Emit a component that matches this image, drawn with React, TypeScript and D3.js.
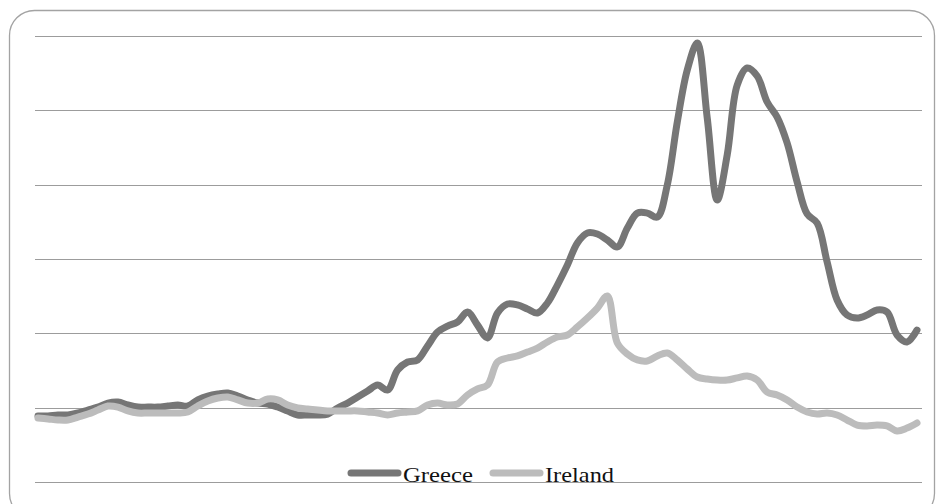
import React from "react";
import * as d3 from "d3";

// values, one per step along the x axis
const greece = [
  4.44, 4.44, 4.51, 4.51, 4.64, 4.84, 5.04, 5.31, 5.38, 5.18,
  5.04, 5.04, 5.04, 5.11, 5.18, 5.11, 5.52, 5.78, 5.92, 5.99,
  5.78, 5.52, 5.31, 5.25, 5.04, 4.77, 4.51, 4.51, 4.51, 4.57,
  4.98, 5.31, 5.72, 6.12, 6.52, 6.19, 7.53, 8.07, 8.21, 9.15,
  10.09, 10.49, 10.76, 11.43, 10.56, 9.69, 11.37, 11.97, 11.91, 11.64,
  11.37, 12.04, 13.25, 14.6, 16.08, 16.75, 16.68, 16.28, 15.81, 17.08,
  18.09, 18.09, 17.82, 19.98, 24.21, 27.71, 29.53, 24.48, 18.97, 22.0,
  26.7, 27.85, 27.31, 25.56, 24.55, 22.8, 20.18, 18.03, 17.42, 14.8,
  12.24, 11.23, 11.03, 11.23, 11.57, 11.43, 9.89, 9.42, 10.22,
];

const ireland = [
  4.3, 4.24, 4.17, 4.17, 4.37, 4.57, 4.84, 5.11, 5.04, 4.78,
  4.64, 4.64, 4.64, 4.64, 4.64, 4.71, 5.11, 5.45, 5.65, 5.72,
  5.52, 5.31, 5.31, 5.58, 5.52, 5.18, 4.98, 4.91, 4.84, 4.78,
  4.78, 4.78, 4.78, 4.71, 4.64, 4.51, 4.64, 4.71, 4.78, 5.18,
  5.31, 5.18, 5.25, 5.85, 6.26, 6.52, 8.07, 8.34, 8.48, 8.74,
  9.01, 9.42, 9.75, 9.89, 10.43, 11.03, 11.7, 12.51, 9.35, 8.61,
  8.21, 8.14, 8.48, 8.68, 8.21, 7.6, 7.06, 6.93, 6.86, 6.86,
  7.0, 7.13, 6.86, 6.05, 5.85, 5.52, 5.04, 4.71, 4.57, 4.64,
  4.51, 4.17, 3.83, 3.77, 3.83, 3.77, 3.43, 3.63, 3.97,
];

const yTicks = [0, 5, 10, 15, 20, 25, 30];

const series = [
  { name: "Greece", values: greece, color: "#767676" },
  { name: "Ireland", values: ireland, color: "#bcbcbc" },
];

const width = 937;
const height = 504;

export default function App() {
  const x = d3
    .scaleLinear()
    .domain([0, greece.length - 1])
    .range([38, 917]);
  const y = d3.scaleLinear().domain([0, 30]).range([482, 36]);

  const line = d3
    .line<number>()
    .x((d, i) => x(i))
    .y((d) => y(d))
    .curve(d3.curveCatmullRom);

  const legendX = [348, 490];

  return (
    <svg
      width={width}
      height={height}
      style={{ position: "absolute", left: 0, top: 0, background: "#fff" }}
    >
      <rect
        x={9.5}
        y={10.5}
        width={925}
        height={508}
        rx={25}
        fill="#fff"
        stroke="#a3a3a3"
        strokeWidth={1.3}
      />
      {yTicks.map((t) => (
        <line
          key={t}
          x1={35}
          x2={922}
          y1={Math.round(y(t)) + 0.5}
          y2={Math.round(y(t)) + 0.5}
          stroke="#9c9c9c"
          strokeWidth={1.2}
        />
      ))}
      {series.map((s) => (
        <path
          key={s.name}
          d={line(s.values) || ""}
          fill="none"
          stroke={s.color}
          strokeWidth={7}
          strokeLinecap="round"
          strokeLinejoin="round"
        />
      ))}
      {series.map((s, i) => (
        <g key={s.name} transform={`translate(${legendX[i]},473)`}>
          <line
            x1={3}
            x2={50}
            y1={0}
            y2={0}
            stroke={s.color}
            strokeWidth={7}
            strokeLinecap="round"
          />
          <text
            x={55}
            y={8.5}
            fontFamily="'Liberation Serif', 'Times New Roman', serif"
            fontSize={22}
            fill="#111"
            textLength={s.name === "Greece" ? 70 : 69}
            lengthAdjust="spacingAndGlyphs"
          >
            {s.name}
          </text>
        </g>
      ))}
    </svg>
  );
}
